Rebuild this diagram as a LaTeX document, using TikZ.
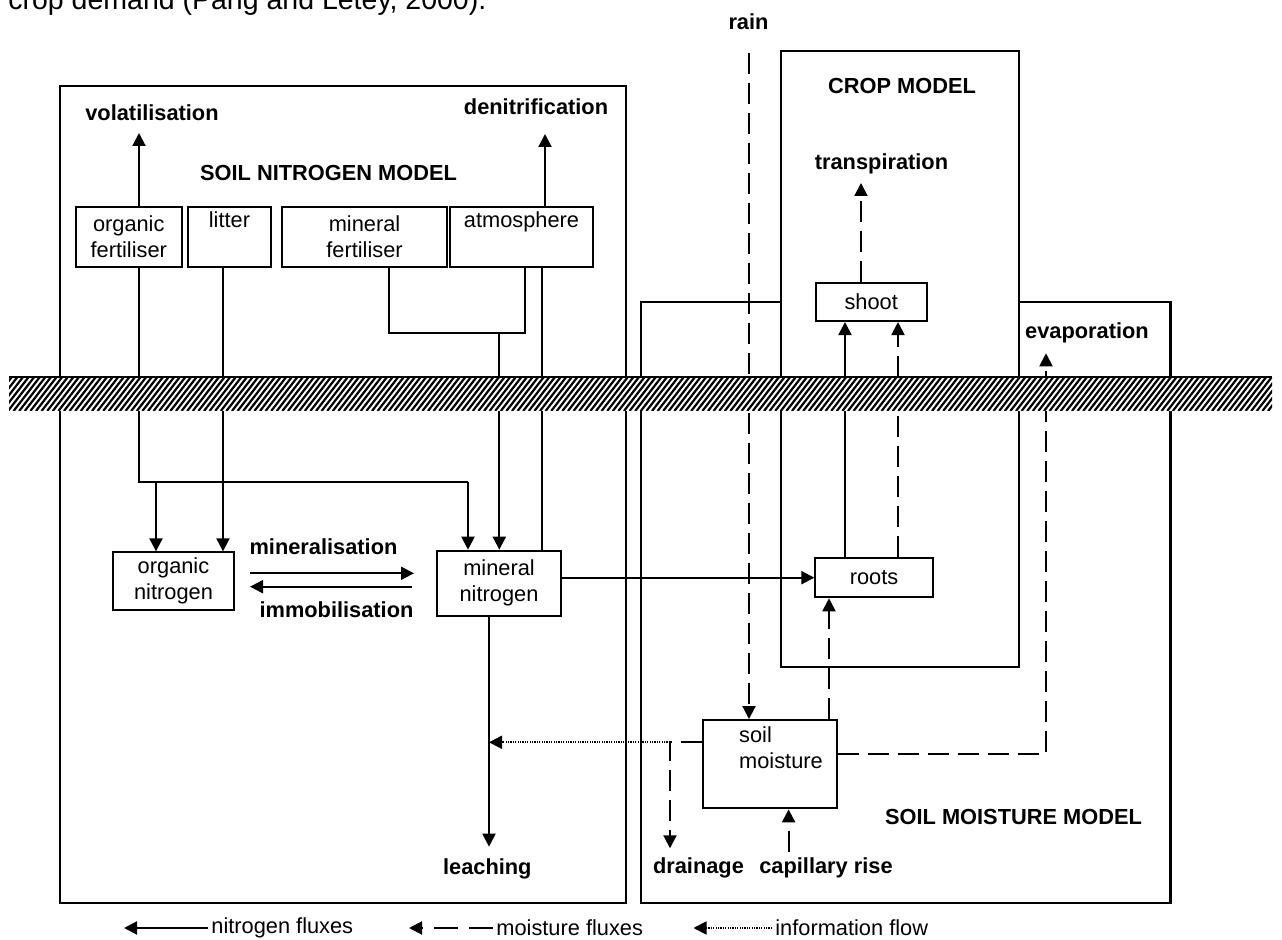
\documentclass[tikz,border=0pt]{standalone}
\usepackage{fontspec}
\setmainfont{Liberation Sans}
\usetikzlibrary{arrows.meta}
\begin{document}
\begin{tikzpicture}[x=0.5pt,y=-0.5pt,
  every node/.style={font=\fontsize{10.9}{13}\selectfont, inner sep=0pt},
  lbl/.style={font=\fontsize{10.9}{13}\selectfont\bfseries},
  box/.style={draw, line width=1pt, align=center, fill=white},
  frame/.style={draw, line width=1.1pt},
  tip/.style={-{Triangle[length=6.5pt,width=6.5pt]}},
  nline/.style={line width=1pt},
  nflux/.style={nline, tip},
  mline/.style={line width=1pt, dash pattern=on 10.5pt off 4.5pt},
  mflux/.style={mline, tip},
  iflux/.style={line width=0.9pt, dash pattern=on 0.6pt off 0.6pt, tip},
]
\clip (0,0) rectangle (1282,940);

% caption fragment cut at the top
\node[anchor=base west, font=\fontsize{14.25}{16}\selectfont] (caption) at (8,9.3) {crop demand (Pang and Letey, 2000).};

% model frames
\draw[frame] (60,86) rectangle (626,903.3);
\draw[frame] (641,302) rectangle (1170.5,903.3);
\draw[frame, fill=white] (781,51) rectangle (1019,666.7);

% labels
\node[lbl] (vol) at (152,113) {volatilisation};
\node[lbl] (denit) at (536,107) {denitrification};
\node[lbl] (snm) at (328.5,173) {SOIL NITROGEN MODEL};
\node[lbl] (rain) at (748.5,21.7) {rain};
\node[lbl] (cm) at (902,86) {CROP MODEL};
\node[lbl] (transp) at (881.5,164) {transpiration};
\node[lbl] (evap) at (1087,333.3) {evaporation};
\node[lbl] (minl) at (323.5,546.7) {mineralisation};
\node[lbl] (imml) at (336.5,609.3) {immobilisation};
\node[lbl] (leach) at (487.3,869.3) {leaching};
\node[lbl] (drain) at (698.5,867.7) {drainage};
\node[lbl] (capr) at (826,867.7) {capillary rise};
\node[lbl] (smm) at (1013.5,816.7) {SOIL MOISTURE MODEL};

% boxes
\node[box, minimum width=53.25pt, minimum height=30pt] (of) at (128.75,237) {organic\\fertiliser};
\node[box, minimum width=41.5pt, minimum height=30pt] (lit) at (229.5,237) {litter\\\strut};
\node[box, minimum width=82.5pt, minimum height=30pt] (mf) at (364.5,237) {mineral\\fertiliser};
\node[box, minimum width=71.5pt, minimum height=30pt] (atm) at (521.5,237) {atmosphere\\\strut};
\node[box, minimum width=60.5pt, minimum height=28.85pt] (on) at (173.5,581.2) {organic\\nitrogen};
\node[box, minimum width=62pt, minimum height=32.5pt] (mn) at (499,583.2) {mineral\\nitrogen};
\node[box, minimum width=58.6pt, minimum height=19.5pt] (roots) at (874,577.8) {roots};
\node[box, minimum width=55.5pt, minimum height=19.15pt] (shoot) at (871.2,301.9) {shoot};
\node[box, minimum width=67pt, minimum height=44.15pt] (sm) at (770.4,764.2) {};
\node[align=left] (smT) at (781,748) {soil\\moisture};

% nitrogen fluxes
\coordinate (volTip) at (139,133);
\draw[nflux] (of.north -| volTip) -- (volTip);
\coordinate (denTip) at (545,134);
\draw[nflux] (atm.north -| denTip) -- (denTip);
\coordinate (ofJ) at (139,482.3);
\coordinate (ofMN) at (468,482.3);
\coordinate (ofON) at (156,482.3);
\draw[nline] (of.south -| ofJ) -- (ofJ) -- (ofMN);
\draw[nflux] (ofMN) -- (ofMN |- mn.north);
\draw[nflux] (ofON) -- (ofON |- on.north);
\coordinate (litX) at (223,0);
\draw[nflux] (lit.south -| litX) -- (on.north -| litX);
\coordinate (brL) at (388.6,332.7);
\coordinate (brR) at (524.5,332.7);
\coordinate (brM) at (499.3,332.7);
\draw[nline] (mf.south -| brL) -- (brL) -- (brR) -- (atm.south -| brR);
\draw[nflux] (brM) -- (brM |- mn.north);
\coordinate (denX) at (542,0);
\draw[nline] (mn.north -| denX) -- (atm.south -| denX);
\coordinate (minA) at (250,573.3);
\coordinate (minB) at (414,573.3);
\draw[nflux] (minA) -- (minB);
\coordinate (immA) at (412,586.7);
\coordinate (immB) at (250,586.7);
\draw[nflux] (immA) -- (immB);
\coordinate (nr) at (0,577.7);
\draw[nflux] (mn.east |- nr) -- (roots.west |- nr);
\coordinate (lx) at (489,846.7);
\draw[nflux] (mn.south -| lx) -- (lx);
\coordinate (rsx) at (845,0);
\draw[nflux] (roots.north -| rsx) -- (shoot.south -| rsx);

% moisture fluxes
\coordinate (rainS) at (749,53);
\draw[mflux] (rainS) -- (rainS |- sm.north);
\coordinate (trTip) at (861,183);
\draw[mflux] (shoot.north -| trTip) -- (trTip);
\coordinate (rsd) at (898,0);
\draw[mflux] (roots.north -| rsd) -- (shoot.south -| rsd);
\coordinate (smr) at (829,0);
\draw[mflux] (sm.north -| smr) -- (roots.south -| smr);
\coordinate (evC) at (1046,754);
\coordinate (evTip) at (1046,353.3);
\draw[mflux] (sm.east |- evC) -- (evC) -- (evTip);
\coordinate (drC) at (670,742.3);
\coordinate (drTip) at (670,848.3);
\draw[mflux] (sm.west |- drC) -- (drC) -- (drTip);
\coordinate (capS) at (788.6,851.7);
\draw[mflux] (capS) -- (capS |- sm.south);

% information flow
\draw[iflux] (drC) -- (lx |- drC);

% soil surface
\fill[white] (9,377.3) rectangle (1272,411);
\begin{scope}
\clip (9,377.3) rectangle (1272,411);
\foreach \i in {0,...,232} {\draw[line width=1.1pt] ({-20+\i*5.6},411) -- ({6+\i*5.6},377.3);}
\end{scope}
\draw[line width=1pt] (9,377.3) -- (1272,377.3);

% legend
\coordinate (l1a) at (208,928);
\coordinate (l1b) at (124,928);
\draw[nflux] (l1a) -- (l1b);
\node[anchor=west] (l1) at (211,928) {nitrogen fluxes};
\coordinate (l2a) at (493,928);
\coordinate (l2b) at (409,928);
\draw[mflux, dash pattern=on 12pt off 5.5pt] (l2a) -- (l2b);
\node[anchor=west] (l2) at (496,928) {moisture fluxes};
\coordinate (l3a) at (772,928);
\coordinate (l3b) at (693.5,928);
\draw[iflux] (l3a) -- (l3b);
\node[anchor=west] (l3) at (775,928) {information flow};
\end{tikzpicture}
\end{document}
